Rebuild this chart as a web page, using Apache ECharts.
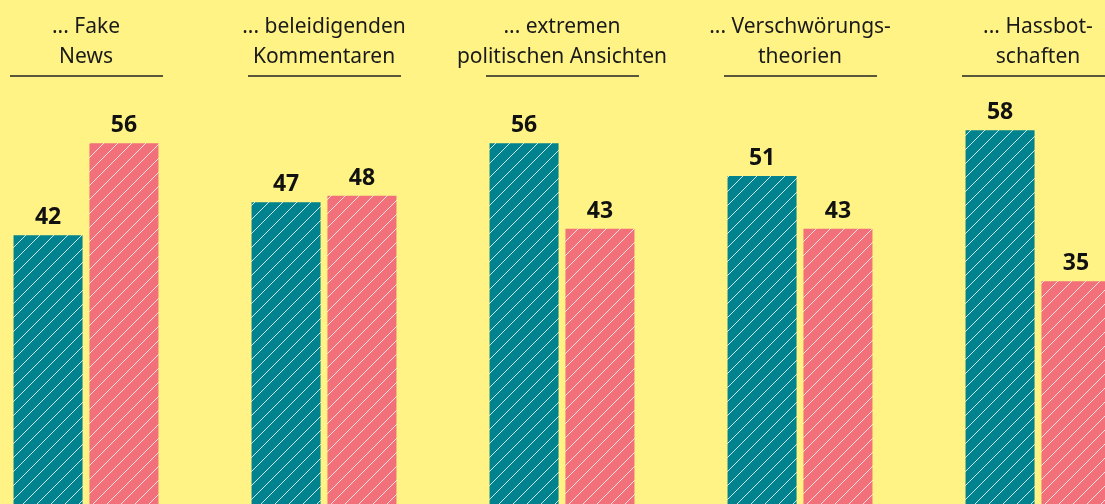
<!DOCTYPE html>
<html>
<head>
<meta charset="utf-8">
<script src="https://cdn.jsdelivr.net/npm/echarts@6/dist/echarts.min.js"></script>
<style>
  html, body { margin: 0; padding: 0; background: #fff385; overflow: hidden; }
  body { width: 1105px; height: 504px; position: relative; }
  #chart { position: absolute; left: -33px; top: 0; width: 1190px; height: 511px; }
</style>
</head>
<body>
<div id="chart"></div>
<script>
// Kategorien und Werte
const categories = [
  "... Fake\nNews",
  "... beleidigenden\nKommentaren",
  "... extremen\npolitischen Ansichten",
  "... Verschwörungs-\ntheorien",
  "... Hassbot-\nschaften"
];
const tealValues = [42, 47, 56, 51, 58];
const pinkValues = [56, 48, 43, 43, 35];

// schraffiertes Muster für die Balken
function hatch(bg) {
  const size = 14;
  const c = document.createElement("canvas");
  c.width = size;
  c.height = size;
  const ctx = c.getContext("2d");
  ctx.fillStyle = bg;
  ctx.fillRect(0, 0, size, size);
  ctx.strokeStyle = "rgba(255,255,255,0.8)";
  ctx.lineWidth = 1;
  ctx.beginPath();
  ctx.moveTo(-1, size + 1);
  ctx.lineTo(size + 1, -1);
  ctx.moveTo(-2, 2);
  ctx.lineTo(2, -2);
  ctx.moveTo(size - 2, size + 2);
  ctx.lineTo(size + 2, size - 2);
  ctx.stroke();
  return { image: c, repeat: "repeat" };
}

const font = "'Noto Sans', sans-serif";
const chart = echarts.init(document.getElementById("chart"));

const labelStyle = {
  show: true,
  position: "top",
  distance: 6,
  color: "#111",
  fontSize: 23,
  fontWeight: "bold",
  fontFamily: font
};

chart.setOption({
  backgroundColor: "#fff385",
  animation: false,
  grid: {
    left: 0,
    right: 0,
    top: 117,
    bottom: 0
  },
  xAxis: {
    type: "category",
    data: categories,
    position: "top",
    axisLine: { show: false },
    axisTick: { show: false },
    axisLabel: {
      margin: 45,
      color: "#1a1a1a",
      fontSize: 21,
      lineHeight: 30,
      fontFamily: font,
      interval: 0
    }
  },
  yAxis: {
    type: "value",
    min: 0,
    max: 60,
    show: false,
    splitLine: { show: false }
  },
  series: [
    {
      type: "bar",
      data: tealValues,
      barWidth: 69,
      barGap: "10%",
      itemStyle: { color: hatch("#00838f") },
      label: labelStyle
    },
    {
      type: "bar",
      data: pinkValues,
      barWidth: 69,
      itemStyle: { color: hatch("#f2707a") },
      label: labelStyle
    }
  ]
});

// Unterstreichungen unter den Überschriften
const lines = categories.map((c, i) => {
  const x = chart.convertToPixel({ xAxisIndex: 0 }, i);
  return {
    type: "line",
    shape: { x1: x - 76, y1: 76, x2: x + 77, y2: 76 },
    style: { stroke: "#222", lineWidth: 1.5 }
  };
});
chart.setOption({ graphic: lines });
</script>
</body>
</html>
